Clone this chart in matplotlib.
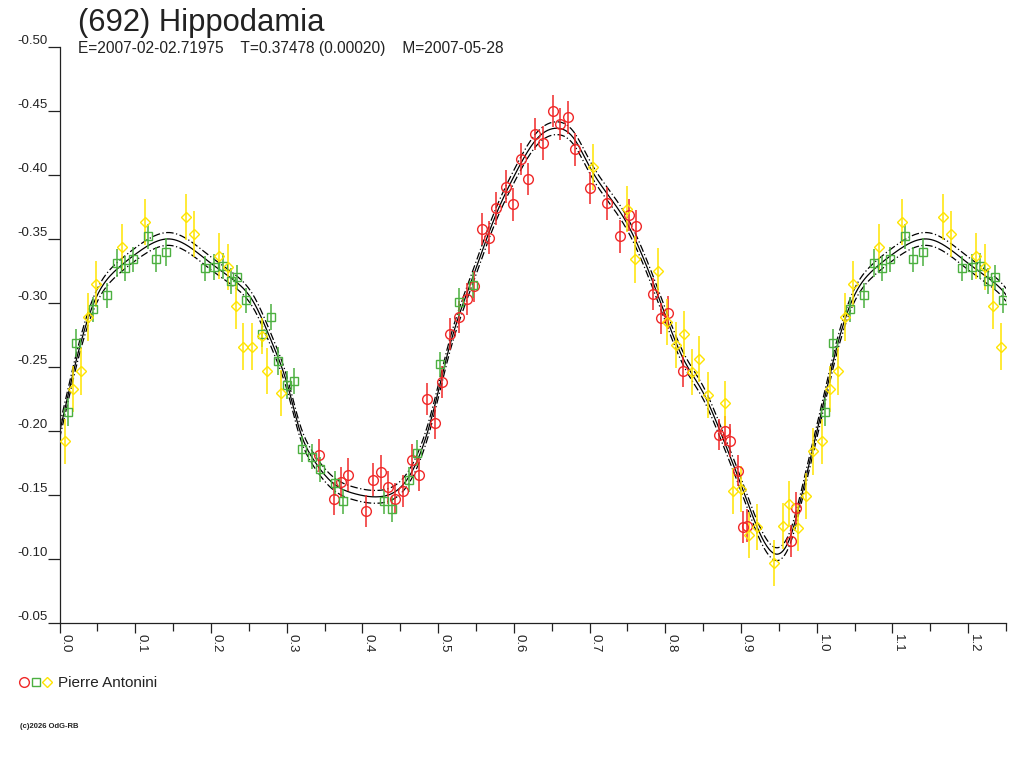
import numpy as np
import matplotlib
matplotlib.use("Agg")
import matplotlib.pyplot as plt
from matplotlib.lines import Line2D
from matplotlib.legend_handler import HandlerTuple
from matplotlib.ticker import MultipleLocator, FuncFormatter

plt.rcParams['font.family'] = ['Liberation Sans', 'DejaVu Sans']
plt.rcParams['axes.unicode_minus'] = False

title = "(692) Hippodamia"
subtitle = "E=2007-02-02.71975    T=0.37478 (0.00020)    M=2007-05-28"
observer = "Pierre Antonini"
credit = "(c)2026 OdG-RB"

# phase / reduced magnitude / error
red_phase = [0.343, 0.3626, 0.372, 0.3815, 0.405, 0.4137, 0.424, 0.4335, 0.443, 0.453,
             0.4657, 0.475, 0.486, 0.496, 0.5057, 0.516, 0.528, 0.538, 0.548, 0.558,
             0.567, 0.5766, 0.590, 0.5995, 0.609, 0.6185, 0.6286, 0.638, 0.6515, 0.661,
             0.671, 0.681, 0.700, 0.723, 0.740, 0.752, 0.7616, 0.784, 0.794, 0.804,
             0.823, 0.8716, 0.879, 0.886, 0.896, 0.9025, 0.908, 0.966, 0.973]
red_mag = [-0.181, -0.147, -0.160, -0.166, -0.1375, -0.162, -0.168, -0.156, -0.147, -0.153,
           -0.177, -0.166, -0.225, -0.2065, -0.238, -0.276, -0.289, -0.303, -0.313, -0.358,
           -0.351, -0.374, -0.391, -0.377, -0.4125, -0.397, -0.432, -0.425, -0.450, -0.440,
           -0.445, -0.420, -0.390, -0.378, -0.352, -0.369, -0.3604, -0.307, -0.288, -0.2925,
           -0.247, -0.197, -0.200, -0.1925, -0.169, -0.125, -0.126, -0.114, -0.140]
red_err = [0.0128, 0.013, 0.012, 0.013, 0.0126, 0.013, 0.013, 0.013, 0.012, 0.0126,
           0.0127, 0.0127, 0.0127, 0.0127, 0.0124, 0.0124, 0.0124, 0.0124, 0.012, 0.0126,
           0.013, 0.013, 0.013, 0.0127, 0.0124, 0.0127, 0.0126, 0.013, 0.0124, 0.0124,
           0.0126, 0.013, 0.0124, 0.013, 0.0126, 0.0126, 0.0126, 0.0126, 0.012, 0.0127,
           0.0124, 0.012, 0.012, 0.0127, 0.012, 0.0127, 0.0127, 0.0126, 0.0127]

green_phase = [0.0116, 0.022, 0.0438, 0.0623, 0.076, 0.086, 0.0967, 0.117, 0.127, 0.141,
               0.192, 0.2045, 0.2156, 0.226, 0.235, 0.246, 0.268, 0.279, 0.289, 0.300,
               0.310, 0.320, 0.333, 0.344, 0.364, 0.374, 0.428, 0.439, 0.462, 0.472,
               0.502, 0.527, 0.5466]
green_mag = [-0.215, -0.269, -0.295, -0.306, -0.331, -0.327, -0.334, -0.352, -0.334, -0.340,
             -0.327, -0.328, -0.329, -0.317, -0.320, -0.302, -0.276, -0.289, -0.255, -0.236,
             -0.239, -0.186, -0.180, -0.170, -0.159, -0.145, -0.145, -0.139, -0.162, -0.183,
             -0.252, -0.301, -0.314]
green_err = [0.011, 0.011, 0.010, 0.010, 0.011, 0.010, 0.010, 0.010, 0.010, 0.011,
             0.010, 0.010, 0.010, 0.010, 0.010, 0.010, 0.010, 0.010, 0.011, 0.011,
             0.010, 0.010, 0.010, 0.010, 0.010, 0.010, 0.010, 0.010, 0.010, 0.010,
             0.010, 0.011, 0.010]

yellow_phase = [0.0073, 0.018, 0.0284, 0.038, 0.0478, 0.082, 0.113, 0.167, 0.177, 0.211,
                0.222, 0.233, 0.243, 0.254, 0.267, 0.274, 0.293, 0.705, 0.750, 0.760,
                0.791, 0.802, 0.814, 0.825, 0.835, 0.845, 0.856, 0.879, 0.889, 0.900,
                0.910, 0.921, 0.944, 0.955, 0.964, 0.975, 0.986, 0.995]
yellow_mag = [-0.192, -0.233, -0.247, -0.289, -0.315, -0.344, -0.363, -0.367, -0.354, -0.337,
              -0.328, -0.298, -0.266, -0.266, -0.274, -0.247, -0.230, -0.406, -0.3734, -0.334,
              -0.325, -0.285, -0.267, -0.276, -0.246, -0.256, -0.228, -0.2216, -0.1534, -0.155,
              -0.119, -0.125, -0.097, -0.126, -0.143, -0.124, -0.149, -0.184]
yellow_err = [0.0175, 0.018, 0.0185, 0.0185, 0.018, 0.018, 0.018, 0.018, 0.018, 0.018,
              0.018, 0.018, 0.018, 0.018, 0.014, 0.018, 0.018, 0.018, 0.018, 0.018,
              0.018, 0.018, 0.018, 0.018, 0.018, 0.018, 0.018, 0.0175, 0.018, 0.018,
              0.018, 0.018, 0.018, 0.018, 0.018, 0.018, 0.018, 0.018]

# fitted light curve (phase, mag)
curve_phase = [0.000, 0.025, 0.049, 0.075, 0.100, 0.146, 0.200, 0.230, 0.256, 0.280,
               0.302, 0.3176, 0.335, 0.3617, 0.390, 0.4234, 0.4586, 0.4894, 0.505, 0.516,
               0.5445, 0.575, 0.602, 0.630, 0.6546, 0.680, 0.700, 0.7497, 0.7976, 0.825,
               0.850, 0.875, 0.901, 0.925, 0.945, 0.965, 0.987]
curve_mag = [-0.199, -0.262, -0.305, -0.326, -0.338, -0.350, -0.331, -0.318, -0.301, -0.270,
             -0.234, -0.200, -0.178, -0.159, -0.151, -0.1487, -0.1617, -0.206, -0.2425, -0.268,
             -0.318, -0.367, -0.401, -0.428, -0.4365, -0.428, -0.4065, -0.362, -0.2945, -0.255,
             -0.230, -0.196, -0.1565, -0.120, -0.104, -0.117, -0.167]
fit_band = 0.005

RED = '#f02828'
GREEN = '#4cb040'
YELLOW = '#ffe400'


def periodic_spline(t, y, x):
    # cubic spline with period 1 through (t, y)
    t = np.asarray(t, float); y = np.asarray(y, float)
    n = len(t)
    h = np.diff(np.append(t, t[0] + 1))
    A = np.zeros((n, n)); b = np.zeros(n)
    for i in range(n):
        hp = h[i - 1]; hi = h[i]
        A[i, i - 1] += hp
        A[i, i] += 2 * (hp + hi)
        A[i, (i + 1) % n] += hi
        b[i] = 6 * ((y[(i + 1) % n] - y[i]) / hi - (y[i] - y[i - 1]) / hp)
    M = np.linalg.solve(A, b)
    p = np.mod(x, 1.0)
    idx = np.searchsorted(t, p, side='right') - 1
    p = np.where(idx < 0, p + 1, p)
    idx = np.where(idx < 0, n - 1, idx)
    t0 = t[idx]; hh = h[idx]; t1 = t0 + hh
    j = (idx + 1) % n
    return (M[idx] * (t1 - p) ** 3 / (6 * hh) + M[j] * (p - t0) ** 3 / (6 * hh)
            + (y[idx] - M[idx] * hh ** 2 / 6) * (t1 - p) / hh
            + (y[j] - M[j] * hh ** 2 / 6) * (p - t0) / hh)


def wrap(ph, mag, err):
    ph = np.asarray(ph); mag = np.asarray(mag); err = np.asarray(err)
    m = ph < 0.25
    return (np.concatenate([ph, ph[m] + 1]), np.concatenate([mag, mag[m]]),
            np.concatenate([err, err[m]]))


xs = np.linspace(0, 1.25, 800)
fit = periodic_spline(curve_phase, curve_mag, xs)

fig = plt.figure(figsize=(10.24, 7.68), dpi=100)
ax = fig.add_axes([59.5 / 1024, 1 - 623 / 768, (1006 - 59.5) / 1024, (623 - 47) / 768])

ax.plot(xs, fit, color='black', lw=0.9, zorder=2)
ax.plot(xs, fit + fit_band, color='black', lw=0.9, ls=(0, (6, 2, 1, 2)), zorder=2)
ax.plot(xs, fit - fit_band, color='black', lw=0.9, ls=(0, (6, 2, 1, 2)), zorder=2)

series = [
    (red_phase, red_mag, red_err, RED, 'o', 7.0),
    (green_phase, green_mag, green_err, GREEN, 's', 5.4),
    (yellow_phase, yellow_mag, yellow_err, YELLOW, 'D', 4.8),
]
for ph, mag, err, col, mk, ms in series:
    x, y, e = wrap(ph, mag, err)
    ax.errorbar(x, y, yerr=e, fmt=mk, ms=ms, mfc='none', mec=col, mew=1.0,
                ecolor=col, elinewidth=1.1, capsize=0, zorder=3, clip_on=True)

ax.set_xlim(0, 1.25)
ax.set_ylim(-0.05, -0.50)

for s in ['top', 'right']:
    ax.spines[s].set_visible(False)
for s in ['left', 'bottom']:
    ax.spines[s].set_color('#222222')
    ax.spines[s].set_linewidth(0.9)

ax.yaxis.set_major_locator(MultipleLocator(0.05))
ax.yaxis.set_major_formatter(FuncFormatter(lambda v, p: f"{v:.2f}"))
ax.xaxis.set_major_locator(MultipleLocator(0.1))
ax.xaxis.set_minor_locator(MultipleLocator(0.05))
ax.xaxis.set_major_formatter(FuncFormatter(lambda v, p: f"{v:.1f}"))

ax.tick_params(axis='y', direction='out', length=8.5, width=0.9, pad=0,
               labelsize=9.5, colors='#222222')
ax.tick_params(axis='x', which='major', direction='out', length=7.2, width=0.9,
               pad=0.5, labelsize=9.5, colors='#222222', labelrotation=270)
ax.tick_params(axis='x', which='minor', direction='out', length=5.8, width=0.9,
               colors='#222222')
for lbl in ax.get_yticklabels():
    lbl.set_verticalalignment('bottom')
for lbl in ax.get_xticklabels():
    lbl.set_horizontalalignment('left')

fig.text(78 / 1024, 1 - 31 / 768, title, fontsize=22.3, color='#222222',
         ha='left', va='baseline')
fig.text(78 / 1024, 1 - 53 / 768, subtitle, fontsize=11.2, color='#222222',
         ha='left', va='baseline')

handles = (
    Line2D([], [], ls='none', marker='o', ms=7.0, mfc='none', mec=RED, mew=1.0),
    Line2D([], [], ls='none', marker='s', ms=5.4, mfc='none', mec=GREEN, mew=1.0),
    Line2D([], [], ls='none', marker='D', ms=4.8, mfc='none', mec=YELLOW, mew=1.0),
)
fig.legend([handles], [observer], handler_map={tuple: HandlerTuple(ndivide=None, pad=0)},
           loc='center left', bbox_to_anchor=(18 / 1024, 1 - 683 / 768), frameon=False,
           fontsize=11, handlelength=2.3, handletextpad=0.35, borderpad=0, borderaxespad=0,
           labelcolor='#222222')

fig.text(20 / 1024, 1 - 726 / 768, credit, fontsize=5.5, fontweight='bold',
         color='#222222', ha='left', va='center')

fig.savefig('out.png', dpi=100)
